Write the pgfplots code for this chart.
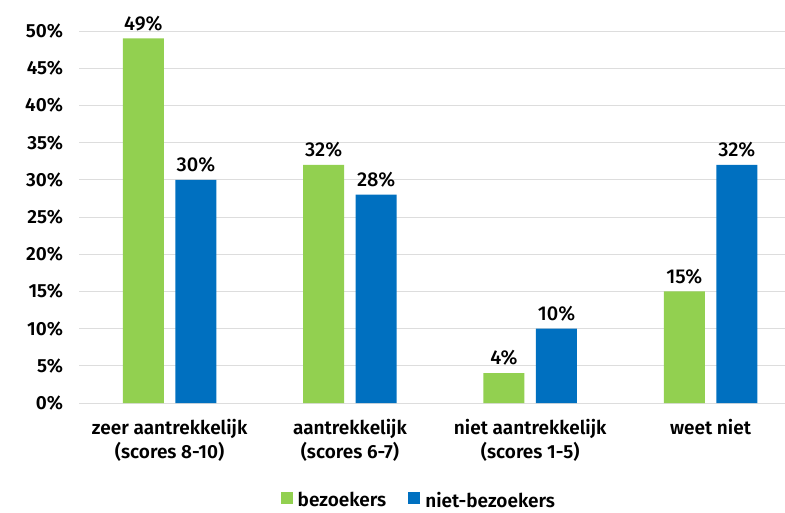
\documentclass[border=0pt]{standalone}
\usepackage{fontspec}
\setmainfont{Fira Sans}[BoldFont={Fira Sans SemiBold}]
\newfontfamily\medfont{Fira Sans Medium}
\usepackage{pgfplots}
\pgfplotsset{compat=1.18}
\definecolor{bzgreen}{HTML}{92D050}
\definecolor{nbblue}{HTML}{0070C0}
\definecolor{gridgray}{HTML}{DDDDDD}
\begin{document}
\begin{tikzpicture}
\useasboundingbox (-79.5pt,-109pt) rectangle (705.5pt,403pt);
\begin{axis}[
  at={(0,0)}, anchor=south west,
  scale only axis, width=705.5pt, height=372pt,
  xmin=-0.5, xmax=3.413, ymin=0, ymax=50,
  axis line style={draw=none},
  major tick length=0pt,
  ymajorgrids, grid style={gridgray, line width=1pt},
  ytick={0,5,...,50},
  yticklabel={\pgfmathprintnumber{\tick}\%},
  /pgf/number format/assume math mode=true,
  yticklabel style={font=\fontsize{19}{22}\selectfont\bfseries, xshift=-13pt},
  xtick={0,1,2,3},
  xticklabels={zeer aantrekkelijk\\(scores 8-10), aantrekkelijk\\(scores 6-7), niet aantrekkelijk\\(scores 1-5), weet niet},
  xticklabel style={font=\fontsize{19}{24}\selectfont\bfseries, align=center, anchor=north, yshift=-13pt},
  ybar=11.5pt, bar width=41pt,
  nodes near coords={\pgfmathprintnumber{\pgfplotspointmeta}\%},
  nodes near coords style={font=\medfont\fontsize{20}{22}\selectfont, yshift=4pt},
  legend columns=2,
  legend style={draw=none, fill=none, inner sep=1pt, at={(0.481,-0.262)}, anchor=center,
    font=\fontsize{19}{22}\selectfont\bfseries,
    /tikz/every odd column/.append style={column sep=3pt},
    /tikz/every even column/.append style={column sep=20pt}},
  legend image code/.code={\fill[#1] (0pt,-4pt) rectangle (12pt,8pt);},
]
\addplot[fill=bzgreen, draw=none] coordinates {(0,49) (1,32) (2,4) (3,15)};
\addplot[fill=nbblue, draw=none] coordinates {(0,30) (1,28) (2,10) (3,32)};
\legend{bezoekers, niet-bezoekers}
\end{axis}
\end{tikzpicture}
\end{document}
